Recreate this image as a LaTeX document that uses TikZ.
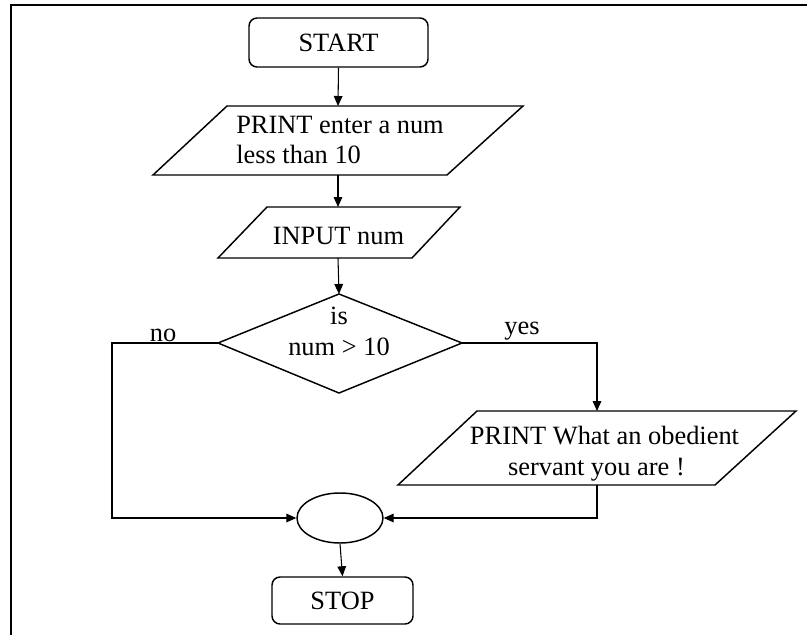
\documentclass[tikz,border=0pt]{standalone}
\usepackage{fontspec}
\setmainfont{Liberation Serif}
\usetikzlibrary{arrows.meta,shapes.geometric}
\begin{document}
\begin{tikzpicture}[x=0.75pt,y=-0.75pt,
  txt/.style={font=\fontsize{19.8}{23}\selectfont, inner sep=0pt},
  termbox/.style={txt, draw, line width=1.1pt, rounded corners=6pt},
  shapeline/.style={line width=1.1pt, line join=miter},
  conn/.style={line width=0.8pt},
  arr/.style={conn, -{Triangle[length=7.5pt,width=6.5pt]}}]
\useasboundingbox (0,0) rectangle (807,635);
\draw[line width=1.5pt] (10.5,640) -- (10.5,5.5) -- (812,5.5);

% START
\node[termbox, minimum width=134.25pt, minimum height=36.75pt] (start) at (338.5,42.5) {START};

% PRINT 1
\draw[shapeline] (227,106) -- (523,106) -- (447,175) -- (153,175) -- cycle;
\coordinate (p1in) at (338,106);
\coordinate (p1out) at (338,175);
\node[txt, anchor=west, align=left] (p1) at (236,140) {PRINT enter a num\\less than 10};

% INPUT
\draw[shapeline] (267,207) -- (460,207) -- (412,258) -- (218,258) -- cycle;
\coordinate (inpin) at (338,207);
\coordinate (inpout) at (338,258);
\node[txt, anchor=base] (inp) at (338.5,244) {INPUT num};

% Decision
\draw[shapeline] (339,294) -- (462,343) -- (339,393) -- (218,343) -- cycle;
\coordinate (dtop) at (339,294);
\coordinate (dleft) at (218,343);
\coordinate (dright) at (462,343);
\node[txt, align=center] (dtext) at (339,331.5) {is\\num > 10};
\node[txt, anchor=base] (no) at (163,341) {no};
\node[txt, anchor=base] (yes) at (522,334) {yes};
\coordinate (nocorner) at (112,343);

% PRINT 2
\draw[shapeline] (477,411) -- (796,411) -- (715,485) -- (398,485) -- cycle;
\coordinate (p2in) at (597,411);
\coordinate (p2out) at (597,485);
\node[txt, align=center] (p2) at (604.5,454) {PRINT What an obedient\\servant you are !\hspace*{12pt}};

% Merge
\node[draw, ellipse, line width=1.1pt, minimum width=64.5pt, minimum height=37.5pt, inner sep=0pt] (merge) at (340,518) {};

% STOP
\node[termbox, minimum width=105.75pt, minimum height=35.25pt] (stop) at (342.5,600.5) {STOP};

% Connectors
\draw[arr] (start.south) -- (p1in);
\draw[arr] (p1out) -- (inpin);
\draw[arr] (inpout) -- (dtop);
\draw[arr] (dleft) -- (nocorner) |- (merge.west);
\draw[arr] (dright) -| (p2in);
\draw[arr] (p2out) |- (merge.east);
\draw[arr] (merge.south) -- (stop.north);
\end{tikzpicture}
\end{document}
